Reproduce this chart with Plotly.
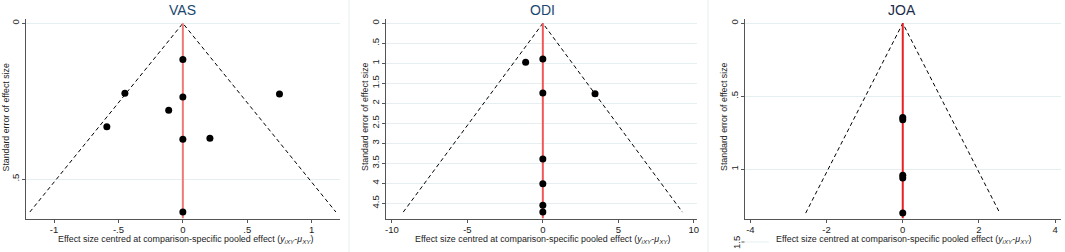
import plotly.graph_objects as go

W, H = 1065, 252

# ---- data ----
vas_effect = [0.0, -0.45, 0.0, 0.75, -0.11, -0.59, 0.0, 0.21, 0.0]
vas_se = [0.116, 0.225, 0.237, 0.227, 0.279, 0.332, 0.372, 0.369, 0.606]

odi_effect = [0.0, -1.14, 0.0, 3.46, 0.0, 0.0, 0.0, 0.0]
odi_se = [0.89, 0.975, 1.74, 1.76, 3.39, 4.01, 4.55, 4.72]

joa_effect = [0.0, 0.0, 0.0, 0.0, 0.0]
joa_se = [0.645, 0.66, 1.04, 1.06, 1.30]

titles = ["VAS", "ODI", "JOA"]
x_tickvals = [[-1, -0.5, 0, 0.5, 1], [-10, -5, 0, 5, 10], [-4, -2, 0, 2, 4]]
x_ticktext = [["-1", "-.5", "0", ".5", "1"], ["-10", "-5", "0", "5", "10"], ["-4", "-2", "0", "2", "4"]]
y_tickvals = [[0, 0.5], [0, 0.5, 1, 1.5, 2, 2.5, 3, 3.5, 4, 4.5], [0, 0.5, 1]]
y_ticktext = [["0", ".5"], ["0", ".5", "1", "1.5", "2", "2.5", "3", "3.5", "4", "4.5"], ["0", ".5", "1"]]

x_label = "Effect size centred at comparison-specific pooled effect (<i>y<sub>iXY</sub></i>-<i>μ<sub>XY</sub></i>)"
y_label = "Standard error of effect size"

FONT = "Liberation Sans, Arial"

# ---- layout geometry (pixels) ----
x_dom_px = [(25, 340), (385.7, 698.3), (745.7, 1063.3)]
y_dom_px = (18.5, 218.5)
x_ranges = [[-1.218, 1.22], [-10.42, 10.24], [-4.152, 4.162]]
y_ranges = [[0.6268, -0.0154], [4.88, -0.12], [1.337, -0.033]]
red_cols = ["#f27878", "#f05858", "#e82020"]
title_cols = ["#1a476f", "#1a476f", "#1c2b4a"]

def px_x(p):
    return p / W

def px_y(p):
    return 1 - p / H

fig = go.Figure()
datasets = [(vas_effect, vas_se), (odi_effect, odi_se), (joa_effect, joa_se)]

for i, (eff, se) in enumerate(datasets):
    sfx = "" if i == 0 else str(i + 1)
    xa, ya = "x" + sfx, "y" + sfx
    max_se = max(se)
    # funnel (95% pseudo-CI)
    fig.add_trace(go.Scatter(
        x=[-1.96 * max_se, 0, 1.96 * max_se], y=[max_se, 0, max_se],
        mode="lines", line=dict(color="black", width=1, dash="4px,3px"),
        xaxis=xa, yaxis=ya, showlegend=False, hoverinfo="skip"))
    # zero line
    fig.add_trace(go.Scatter(
        x=[0, 0], y=[0, y_ranges[i][0]],
        mode="lines", line=dict(color=red_cols[i], width=2),
        xaxis=xa, yaxis=ya, showlegend=False, hoverinfo="skip"))
    # studies
    fig.add_trace(go.Scatter(
        x=eff, y=se, mode="markers",
        marker=dict(color="black", size=7),
        xaxis=xa, yaxis=ya, showlegend=False))

    common_axis = dict(showline=True, linecolor="#555555", linewidth=1,
                       ticks="outside", ticklen=3, tickcolor="#555555",
                       tickfont=dict(family=FONT, size=9.5, color="#222222"),
                       zeroline=False)
    fig.layout["xaxis" + sfx] = dict(
        domain=[px_x(x_dom_px[i][0]), px_x(x_dom_px[i][1])],
        range=x_ranges[i], anchor=ya, showgrid=False,
        tickmode="array", tickvals=x_tickvals[i], ticktext=x_ticktext[i],
        ticklabelstandoff=-1,
        **common_axis)
    fig.layout["yaxis" + sfx] = dict(
        domain=[px_y(y_dom_px[1]), px_y(y_dom_px[0])],
        range=y_ranges[i], anchor=xa, showgrid=True, gridcolor="#e6eff0", gridwidth=1,
        tickmode="array", tickvals=y_tickvals[i], ticktext=y_ticktext[i],
        tickangle=-90, ticklabelstandoff=-1, **common_axis)

annotations = []
title_x = [182, 543, 904]
xlab_x = [185, 543, 905]
ylab_x = [5.5, 365, 725]
for i in range(3):
    annotations.append(dict(text=titles[i], x=px_x(title_x[i]), y=px_y(10), xref="paper", yref="paper",
                            showarrow=False, xanchor="center", yanchor="middle",
                            font=dict(family=FONT, size=14, color=title_cols[i])))
    annotations.append(dict(text=x_label, x=px_x(xlab_x[i]), y=px_y(239.5), xref="paper", yref="paper",
                            showarrow=False, xanchor="center", yanchor="middle",
                            font=dict(family=FONT, size=8.9, color="#222222")))
    annotations.append(dict(text=y_label, x=px_x(ylab_x[i]), y=px_y(117), xref="paper", yref="paper",
                            showarrow=False, xanchor="center", yanchor="middle", textangle=-90,
                            font=dict(family=FONT, size=8.8, color="#222222")))
# stray "1.5" tick label of JOA panel, drawn below the plot region
annotations.append(dict(text="1.5", x=px_x(737), y=px_y(242), xref="paper", yref="paper",
                        showarrow=False, xanchor="center", yanchor="middle", textangle=-90,
                        font=dict(family=FONT, size=9.5, color="#222222")))

shapes = [
    dict(type="line", xref="paper", yref="paper", x0=px_x(349), x1=px_x(349), y0=0, y1=1,
         line=dict(color="#e8eeee", width=1)),
    dict(type="line", xref="paper", yref="paper", x0=px_x(709), x1=px_x(709), y0=0, y1=1,
         line=dict(color="#e8eeee", width=1)),
    dict(type="line", xref="paper", yref="paper", x0=px_x(742.5), x1=px_x(745.7), y0=px_y(242), y1=px_y(242),
         line=dict(color="#555555", width=1)),
    dict(type="line", xref="paper", yref="paper", x0=px_x(745.7), x1=px_x(770), y0=px_y(242), y1=px_y(242),
         line=dict(color="#e6eff0", width=1)),
]

fig.update_layout(
    width=W, height=H, margin=dict(l=0, r=0, t=0, b=0),
    paper_bgcolor="white", plot_bgcolor="white",
    annotations=annotations, shapes=shapes,
)

fig.write_html("out.html", config={"displayModeBar": False},
               post_script="document.body.style.margin='0px';document.body.style.overflow='hidden';")
